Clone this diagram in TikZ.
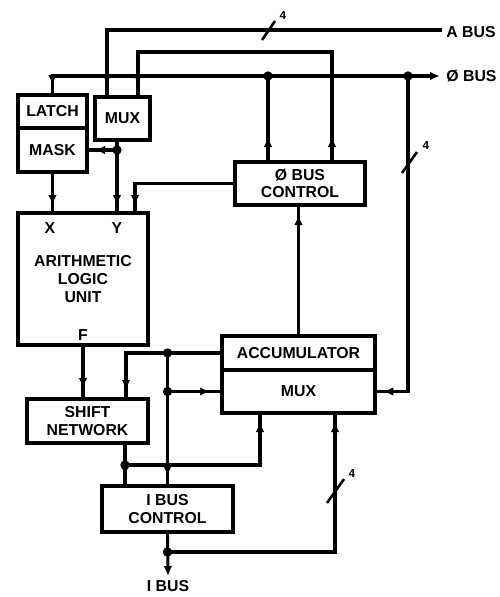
\documentclass[tikz,border=0pt]{standalone}
\usepackage{fontspec}
\setmainfont{Liberation Sans}
\usepackage{tikz}
\usetikzlibrary{arrows.meta, positioning, calc, decorations.markings}

\tikzset{
  blk/.style={draw, line width=2.6pt, outer sep=0pt, inner sep=0pt, align=center,
    font=\fontsize{13.5}{15}\selectfont\bfseries},
  pin/.style={font=\fontsize{13.5}{15}\selectfont\bfseries, inner sep=1pt},
  wire/.style={line width=2.6pt},
  tipat/.style={postaction={decorate, decoration={markings,
    mark=at position #1 with {\arrow{Latex[length=3mm,width=2.6mm]}}}}},
  dot/.style={circle, fill, inner sep=0pt, minimum size=2.8mm},
  slashmark/.style={line width=2.2pt},
  count/.style={font=\fontsize{10}{11}\selectfont\bfseries, inner sep=0pt}
}

\begin{document}
\begin{tikzpicture}[x=0.3mm, y=-0.3mm]
  \useasboundingbox (0,0) rectangle (500,597);

  % blocks
  \node[blk, minimum width=20.7mm, minimum height=9.9mm] (latch) at (52.5,111.5) {LATCH};
  \node[blk, minimum width=20.7mm, minimum height=13.2mm, below=0pt of latch] (mask) {MASK};
  \node[blk, minimum width=16.5mm, minimum height=12.9mm] (mux1) at (122.5,118.5) {MUX};
  \node[blk, minimum width=39mm, minimum height=39.6mm] (alu) at (83,279) {ARITHMETIC\\LOGIC\\UNIT};
  \node[pin] (xin) at (50,228) {X};
  \node[pin] (yin) at (117,228) {Y};
  \node[pin] (fout) at (83,335) {F};
  \node[blk, minimum width=39mm, minimum height=12.9mm] (zbc) at (300,183.5) {Ø BUS\\CONTROL};
  \node[blk, minimum width=45.9mm, minimum height=10.2mm] (acc) at (298.5,353) {ACCUMULATOR};
  \node[blk, minimum width=45.9mm, minimum height=12.9mm, below=0pt of acc] (amux) {MUX};
  \node[blk, minimum width=36.3mm, minimum height=13.2mm] (shift) at (87.5,421) {SHIFT\\NETWORK};
  \node[blk, minimum width=39.3mm, minimum height=13.8mm] (ibc) at (167.5,509) {I BUS\\CONTROL};

  % bus ends and labels
  \coordinate (abus) at (442,30);
  \coordinate (zbus) at (440,76);
  \coordinate (ibus) at (168,576);
  \node[pin, anchor=west] (abuslbl) at (445,32) {A BUS};
  \node[pin, anchor=west] (zbuslbl) at (445,76) {Ø BUS};
  \node[pin] (ibuslbl) at (168,586) {I BUS};

  % tap points
  \coordinate (zt1) at ($(zbc.north west)+(33,0)$);
  \coordinate (zt2) at ($(zbc.north east)+(-33,0)$);
  \coordinate (jr) at (408,76);
  \coordinate (mo) at ($(mux1.south west)+(22,0)$);
  \coordinate (ai) at ($(alu.north east)+(-13,0)$);
  \coordinate (sn2) at ($(shift.north east)+(-22,0)$);
  \coordinate (so) at ($(shift.south east)+(-23,0)$);
  \coordinate (j3) at ($(so)+(0,22)$);
  \coordinate (jv) at (ibc.north |- acc.west);
  \coordinate (ab1) at ($(amux.south west)+(38,0)$);
  \coordinate (ab2) at ($(amux.south west)+(113,0)$);
  \coordinate (j4) at ($(ibc.south)+(0,20)$);

  % top buses
  \draw[wire, tipat=-3.6mm] (abus) -| ($(mux1.north west)+(12,0)$);
  \draw[wire, tipat=7.5mm, tipat=-3.6mm] (zt2) -- ++(0,-110) -| ($(mux1.north east)+(-12,0)$);
  \draw[wire, {Latex[length=3mm,width=2.6mm]}-, tipat=-3mm] (zbus) -| (latch.north);
  \draw[wire, tipat=7.5mm] (zt1) -- (zt1 |- zbus);
  \draw[wire, tipat=-2.5mm] (jr) |- (amux.east);
  \node[dot] (d1) at (zt1 |- zbus) {};
  \node[dot] (d2) at (jr) {};

  % left column
  \draw[wire, tipat=-2.4mm] (mo) -- (mo |- alu.north);
  \draw[wire, tipat=-2.4mm] (mo |- mask.east) -- (mask.east);
  \node[dot] (d3) at (mo |- mask.east) {};
  \draw[wire, tipat=-2.4mm] (mask.south) -- (mask.south |- alu.north);
  \draw[wire, tipat=-2.4mm] (zbc.west) -| (ai);
  \draw[wire, tipat=-3mm] (acc.north) -- (acc.north |- zbc.south);
  \draw[wire, tipat=-3.3mm] (alu.south) -- (alu.south |- shift.north);

  % around the accumulator
  \draw[wire, tipat=-2.7mm] (acc.west) -| (sn2);
  \draw[wire, tipat=-3mm] (jv) -- (ibc.north);
  \draw[wire, tipat=-3.6mm] (ibc.north |- amux.west) -- (amux.west);
  \node[dot] (d4) at (jv) {};
  \node[dot] (d5) at (ibc.north |- amux.west) {};
  \draw[wire, tipat=-3mm] (so) -- (so |- ibc.north);
  \draw[wire, tipat=-2.7mm] (j3) -| (ab1);
  \node[dot] (d6) at (j3) {};
  \draw[wire, -{Latex[length=3mm,width=2.6mm]}] (ibc.south) -- (ibus);
  \draw[wire, tipat=-2.7mm] (j4) -| (ab2);
  \node[dot] (d7) at (j4) {};

  % bus widths
  \draw[slashmark] (262,40) -- (275,21);
  \node[count] (w1) at (283,15) {4};
  \draw[slashmark] (402,173) -- (417,152);
  \node[count] (w2) at (426,145) {4};
  \draw[slashmark] (327,503) -- (344,479);
  \node[count] (w3) at (352,473) {4};
\end{tikzpicture}
\end{document}
